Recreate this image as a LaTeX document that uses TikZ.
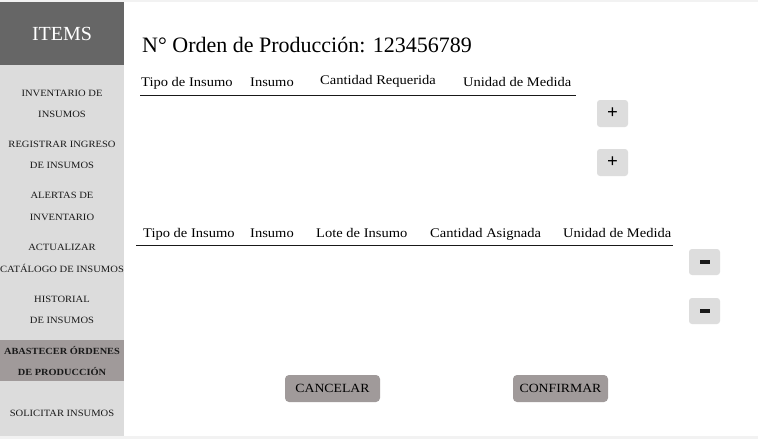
\documentclass[tikz,border=0pt]{standalone}
\usepackage{fontspec}
\setmainfont{Liberation Serif}
\newfontfamily\widefont{Liberation Serif}[FakeStretch=1.1]
\definecolor{pagebg}{HTML}{F2F2F2}
\definecolor{headgray}{HTML}{666666}
\definecolor{sidegray}{HTML}{DCDCDC}
\definecolor{selgray}{HTML}{A09A9A}
\definecolor{btngray}{HTML}{DDDDDD}
\tikzset{
  sideitem/.style={anchor=base, inner sep=0pt, font=\widefont\fontsize{9.6}{11}\selectfont, text=black!90},
  sidesel/.style={sideitem, font=\widefont\fontsize{9.4}{11}\selectfont\bfseries},
  colhead/.style={anchor=base west, inner sep=0pt, font=\widefont\fontsize{13.2}{15}\selectfont, text=black},
  smallbtn/.style={fill=btngray, rounded corners=3pt, minimum width=31pt, minimum height=27pt, inner sep=0pt},
  bigbtn/.style={fill=selgray, rounded corners=4pt, minimum width=95pt, minimum height=27pt, inner sep=0pt, font=\widefont\fontsize{12.5}{14}\selectfont, text=black},
  tline/.style={line width=1pt, black!90}
}
\begin{document}
\begin{tikzpicture}[x=1pt,y=-1pt]
\useasboundingbox (0,0) rectangle (758,439);
\fill[pagebg] (0,0) rectangle (758,439);
\fill[white] (0,2) rectangle (758,436);
% sidebar
\fill[headgray] (0,2) rectangle (124,65);
\fill[sidegray] (0,65) rectangle (124,436);
\fill[selgray] (0,340) rectangle (124,381);
\node[anchor=base, inner sep=0pt, text=white, font=\fontsize{20}{22}\selectfont] (items) at (62,40) {ITEMS};
\node[sideitem] (s1a) at (62,96) {INVENTARIO DE};
\node[sideitem] (s1b) at (62,117) {INSUMOS};
\node[sideitem] (s2a) at (62,147) {REGISTRAR INGRESO};
\node[sideitem] (s2b) at (62,168) {DE INSUMOS};
\node[sideitem] (s3a) at (62,198) {ALERTAS DE};
\node[sideitem] (s3b) at (62,220) {INVENTARIO};
\node[sideitem] (s4a) at (62,250) {ACTUALIZAR};
\node[sideitem] (s4b) at (62,272) {CATÁLOGO DE INSUMOS};
\node[sideitem] (s5a) at (62,302) {HISTORIAL};
\node[sideitem] (s5b) at (62,323) {DE INSUMOS};
\node[sidesel] (s6a) at (62,354) {ABASTECER ÓRDENES};
\node[sidesel] (s6b) at (62,375) {DE PRODUCCIÓN};
\node[sideitem] (s7) at (62,416) {SOLICITAR INSUMOS};
% title
\node[anchor=base west, inner sep=0pt, font=\fontsize{22}{24}\selectfont, text=black] (title) at (142,52) {N° Orden de Producción: 123456789};
% table 1
\node[colhead] (h1a) at (141,86) {Tipo de Insumo};
\node[colhead] (h1b) at (250,86) {Insumo};
\node[colhead] (h1c) at (320,84) {Cantidad Requerida};
\node[colhead] (h1d) at (463,86) {Unidad de Medida};
\coordinate (l1a) at (140,95.5);
\coordinate (l1b) at (576,95.5);
\draw[tline] (l1a) -- (l1b);
\node[smallbtn] (p1) at (612.5,113.5) {};
\node[smallbtn] (p2) at (612.5,162.5) {};
\node[font=\fontsize{19}{19}\selectfont\bfseries, inner sep=0pt] (p1t) at (p1) {+};
\node[font=\fontsize{19}{19}\selectfont\bfseries, inner sep=0pt] (p2t) at (p2) {+};
% table 2
\node[colhead] (h2a) at (143,237) {Tipo de Insumo};
\node[colhead] (h2b) at (250,237) {Insumo};
\node[colhead] (h2c) at (316,237) {Lote de Insumo};
\node[colhead] (h2d) at (430,237) {Cantidad Asignada};
\node[colhead] (h2e) at (563,237) {Unidad de Medida};
\coordinate (l2a) at (136,245.5);
\coordinate (l2b) at (673,245.5);
\draw[tline] (l2a) -- (l2b);
\node[smallbtn, minimum height=26pt] (m1) at (704.5,262) {};
\node[smallbtn, minimum height=26pt] (m2) at (704.5,311) {};
\fill[black!90] ([xshift=-5pt,yshift=-1.6pt]m1.center) rectangle ([xshift=5pt,yshift=1.6pt]m1.center);
\fill[black!90] ([xshift=-5pt,yshift=-1.6pt]m2.center) rectangle ([xshift=5pt,yshift=1.6pt]m2.center);
% bottom buttons
\node[bigbtn] (cancel) at (332.5,388.5) {CANCELAR};
\node[bigbtn] (confirm) at (560.5,388.5) {CONFIRMAR};
\end{tikzpicture}
\end{document}
